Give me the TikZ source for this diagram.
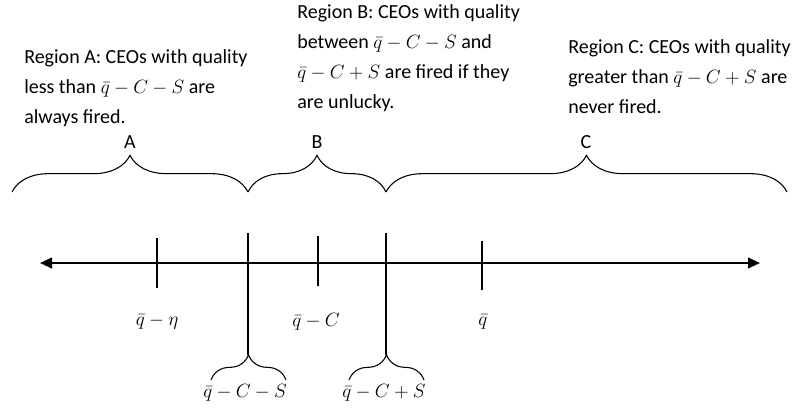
\documentclass[tikz,border=0pt]{standalone}
\usepackage{fontspec}
\setmainfont{Carlito}
\usetikzlibrary{decorations.pathreplacing,arrows.meta}
\begin{document}
\begin{tikzpicture}[x=0.75pt,y=-0.75pt,
  txt/.style={font=\fontsize{15}{22.3}\selectfont, align=left, anchor=base west, inner sep=0pt},
  lbl/.style={font=\fontsize{15}{18}\selectfont, inner sep=0pt},
  bracebig/.style={decorate, decoration={brace, amplitude=27.5pt}, line width=0.8pt},
  bracesmall/.style={decorate, decoration={brace, amplitude=19pt}, line width=0.8pt},
  axisline/.style={line width=1.4pt, {Triangle[length=9pt,width=8pt]}-{Triangle[length=9pt,width=8pt]}},
  tickline/.style={line width=0.9pt}]
\useasboundingbox (0,0) rectangle (798,410);

% text blocks (anchored at the baseline of the last line)
\node[txt] (ta) at (24,123) {Region A: CEOs with quality\\less than $\bar{q}-C-S$ are\\always fired.};
\node[txt] (tb) at (297,108) {Region B: CEOs with quality\\between $\bar{q}-C-S$ and\\$\bar{q}-C+S$ are fired if they\\are unlucky.};
\node[txt] (tc) at (568,113) {Region C: CEOs with quality\\greater than $\bar{q}-C+S$ are\\never fired.};

% top braces
\coordinate (p0) at (12,192);
\coordinate (p1) at (248,192);
\coordinate (p2) at (386,192);
\coordinate (p3) at (787,192);
\draw[bracebig] (p0) -- (p1);
\draw[bracebig] (p1) -- (p2);
\draw[bracebig] (p2) -- (p3);
\node[lbl] (la) at (130,142) {A};
\node[lbl] (lb) at (317,142) {B};
\node[lbl] (lc) at (586,142) {C};

% axis
\coordinate (axl) at (40,263);
\coordinate (axr) at (760,263);
\draw[axisline] (axl) -- (axr);

% ticks
\coordinate (t1a) at (157,238); \coordinate (t1b) at (157,288);
\coordinate (t3a) at (318,236); \coordinate (t3b) at (318,286);
\coordinate (t5a) at (482,241); \coordinate (t5b) at (482,290);
\draw[tickline] (t1a) -- (t1b);
\draw[tickline] (t3a) -- (t3b);
\draw[tickline] (t5a) -- (t5b);

% long lines to bottom braces
\coordinate (t2a) at (248,233); \coordinate (bt1) at (248,355);
\coordinate (t4a) at (386,233); \coordinate (bt2) at (386,355);
\draw[tickline] (t2a) -- (bt1);
\draw[tickline] (t4a) -- (bt2);

% bottom braces
\coordinate (b1l) at (211,380); \coordinate (b1r) at (286,380);
\coordinate (b2l) at (349,380); \coordinate (b2r) at (424,380);
\draw[bracesmall] (b1l) -- (b1r);
\draw[bracesmall] (b2l) -- (b2r);

% axis labels
\node[lbl] (q1) at (157,322) {$\bar{q}-\eta$};
\node[lbl] (q3) at (316,322) {$\bar{q}-C$};
\node[lbl] (q5) at (483,322) {$\bar{q}$};
\node[lbl] (q2) at (245,393) {$\bar{q}-C-S$};
\node[lbl] (q4) at (384,393) {$\bar{q}-C+S$};
\end{tikzpicture}
\end{document}
